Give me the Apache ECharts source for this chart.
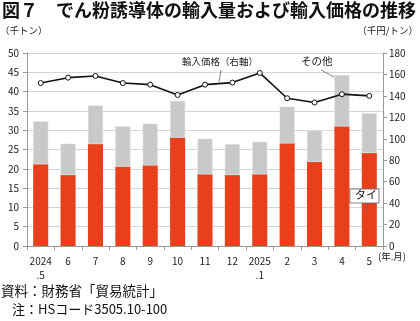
<!DOCTYPE html>
<html><head><meta charset="utf-8">
<script src="https://cdn.jsdelivr.net/npm/echarts@6/dist/echarts.min.js"></script>
<style>html,body{margin:0;padding:0;background:#fff}#c{width:420px;height:321px}</style>
</head><body><div id="c"></div>
<script>
const categories = ['2024\n.5','6','7','8','9','10','11','12','2025\n.1','2','3','4','5'];
const thai = [21.2,18.4,26.4,20.6,20.9,28.1,18.6,18.4,18.6,26.6,21.8,31.0,24.1];
const total = [32.3,26.5,36.4,31.0,31.7,37.6,27.8,26.4,27.0,36.1,29.9,44.3,34.4];
const others = total.map((t,i)=>+(t-thai[i]).toFixed(1));
const price = [152,157,158.6,152,150.5,140.9,150.5,152.4,161.4,137.8,133.8,141.6,140];
const FONT = '"Noto Sans CJK JP", sans-serif';
const chart = echarts.init(document.getElementById('c'));
chart.setOption({
  animation:false,
  textStyle:{fontFamily:FONT},
  grid:{left:27,right:37,top:53,bottom:75},
  xAxis:{type:'category',data:categories,
    axisLine:{lineStyle:{color:'#999'}},
    axisTick:{show:true,alignWithLabel:false,length:4,lineStyle:{color:'#999'}},
    axisLabel:{color:'#222',fontSize:10,margin:8,lineHeight:14,fontFamily:FONT,interval:0}},
  yAxis:[
    {type:'value',min:0,max:50,interval:5,
     axisLine:{show:true,lineStyle:{color:'#999'}},
     axisTick:{show:true,length:4,lineStyle:{color:'#999'}},
     axisLabel:{color:'#222',fontSize:10,margin:8},
     splitLine:{lineStyle:{color:'#d6d6d6'}}},
    {type:'value',min:0,max:180,interval:20,position:'right',
     axisLine:{show:true,lineStyle:{color:'#999'}},
     axisTick:{show:true,length:4,lineStyle:{color:'#999'}},
     axisLabel:{color:'#222',fontSize:10,margin:6},
     splitLine:{show:false}}
  ],
  series:[
    {name:'タイ',type:'bar',stack:'a',data:thai,barWidth:'55%',
     itemStyle:{color:'#e8401c'}},
    {name:'その他',type:'bar',stack:'a',data:others,barWidth:'55%',
     itemStyle:{color:'#c9c9c9',borderColor:'#d8e4ea',borderWidth:0.5}},
    {name:'輸入価格',type:'line',yAxisIndex:1,data:price,
     symbol:'circle',symbolSize:5,z:5,
     lineStyle:{color:'#111',width:1.6},
     itemStyle:{color:'#fff',borderColor:'#111',borderWidth:1}}
  ],
  graphic:[
    {type:'text',left:2,top:1,z:100,style:{text:'図７　でん粉誘導体の輸入量および輸入価格の推移',font:'bold 18px '+FONT,fill:'#111'}},
    {type:'text',left:0,top:26,z:100,style:{text:'（千トン）',font:'9.5px '+FONT,fill:'#222'}},
    {type:'text',right:2,top:26,z:100,style:{text:'（千円/トン）',font:'9.5px '+FONT,fill:'#222'}},
    {type:'text',left:378,top:252,z:100,style:{text:'(年.月)',font:'9.5px '+FONT,fill:'#222'}},
    {type:'text',left:182,top:57,z:100,style:{text:'輸入価格（右軸）',font:'9.5px '+FONT,fill:'#222'}},
    {type:'line',z:100,shape:{x1:221,y1:70,x2:219,y2:82},style:{stroke:'#666',lineWidth:0.8}},
    {type:'text',left:301,top:56,z:100,style:{text:'その他',font:'10.5px '+FONT,fill:'#222'}},
    {type:'line',z:100,shape:{x1:321,y1:70,x2:334,y2:77},style:{stroke:'#666',lineWidth:0.8}},
    {type:'rect',z:100,shape:{x:350,y:189,width:29,height:14},style:{fill:'#fff',stroke:'#666',lineWidth:0.8}},
    {type:'text',left:355,top:189,z:101,style:{text:'タイ',font:'11px '+FONT,fill:'#111'}},
    {type:'line',z:100,shape:{x1:367,y1:203,x2:367,y2:211},style:{stroke:'#666',lineWidth:0.8}},
    {type:'text',left:1,top:284,z:100,style:{text:'資料：財務省「貿易統計」',font:'13.5px '+FONT,fill:'#111'}},
    {type:'text',left:12,top:303,z:100,style:{text:'注：HSコード3505.10-100',font:'13px '+FONT,fill:'#111'}}
  ]
});
</script></body></html>
